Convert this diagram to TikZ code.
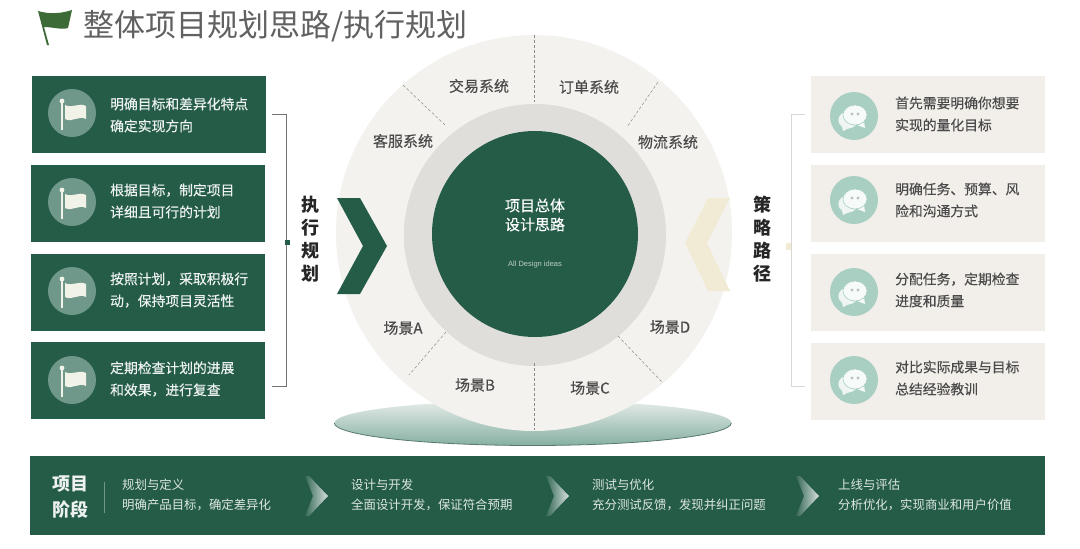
\documentclass[tikz,border=0pt]{standalone}
\usepackage{fontspec}
\setmainfont{Liberation Sans}
\newfontfamily\cjk{Noto Sans CJK SC}
\newfontfamily\cjkmid[FakeBold=0.3]{Noto Sans CJK SC}
\usetikzlibrary{shapes.geometric}
\definecolor{deepgreen}{HTML}{245C48}
\definecolor{iconplan}{HTML}{6F978A}
\definecolor{iconchat}{HTML}{A9CFC3}
\definecolor{paleflag}{HTML}{F1F3E9}
\definecolor{wheelbg}{HTML}{F4F2EE}
\definecolor{sandbox}{HTML}{F2EFEA}
\definecolor{sandarrow}{HTML}{F1EBD6}
\definecolor{inktext}{HTML}{4A4A4A}
\definecolor{baselight}{HTML}{E6EDE9}
\definecolor{basedark}{HTML}{86AFA2}
\definecolor{ringdeep}{HTML}{E0DEDA}
\definecolor{ringmid}{HTML}{E5E3DF}
\definecolor{ringedge}{HTML}{EAE8E4}
\pgfdeclareradialshading{ringfade}{\pgfpoint{0bp}{0bp}}{color(0bp)=(ringdeep); color(28bp)=(ringdeep); color(31bp)=(ringmid); color(35bp)=(ringedge); color(50bp)=(ringedge)}
\tikzset{
  planbox/.style={fill=deepgreen, minimum width=234pt, minimum height=77pt, inner sep=0pt},
  chatbox/.style={fill=sandbox, minimum width=234pt, minimum height=77pt, inner sep=0pt},
  planicon/.style={circle, fill=iconplan, minimum size=48pt, inner sep=0pt},
  chaticon/.style={circle, fill=iconchat, minimum size=48pt, inner sep=0pt},
  plantext/.style={anchor=west, align=left, inner sep=0pt, text=white!92!deepgreen, font=\cjkmid\fontsize{13.8}{22}\selectfont},
  chattext/.style={anchor=west, align=left, inner sep=0pt, text=inktext, font=\cjkmid\fontsize{13.8}{22}\selectfont},
  sidelabel/.style={align=center, inner sep=0pt, text=black!85, font=\cjk\bfseries\fontsize{18}{23}\selectfont},
  wheellabel/.style={inner sep=0pt, text=inktext, font=\cjkmid\fontsize{15}{18}\selectfont},
  stagetext/.style={anchor=west, align=left, inner sep=0pt, text=white!85!deepgreen, font=\cjk\fontsize{12.4}{20}\selectfont},
  spoke/.style={densely dashed, line width=0.5pt, color=black!45},
  flagmark/.pic={
    \fill[paleflag] (-11,-11) rectangle (-9,17);
    \fill[paleflag] (-10,-12) circle (2.4);
    \fill[paleflag] (-7,-8) .. controls (0,-4) and (7,-11) .. (14,-7) -- (14,6) .. controls (7,2) and (0,10) .. (-7,6) -- cycle;
  },
  chatmark/.pic={
    \fill[white!80!iconchat, draw=iconchat, line width=0.6pt] (-6,4) ellipse (10 and 9);
    \fill[white!80!iconchat] (-13,6) -- (-11,15) -- (-3,11) -- cycle;
    \fill[white!90!iconchat] (10,5) -- (11,12) -- (3,9) -- cycle;
    \fill[white!90!iconchat, draw=iconchat, line width=0.6pt] (1,-1) ellipse (12 and 10);
    \fill[black!25] (-2,-2) circle (1.6) (4,-2) circle (1.6);
  },
  stagemark/.pic={
    \shade[left color=deepgreen!92!white, right color=white!82!deepgreen] (-12,-20) -- (-8,-20) -- (11,0) -- (-8,20) -- (-12,20) -- (-4,0) -- cycle;
  }
}
\begin{document}
\begin{tikzpicture}[x=1pt, y=-1pt]
\useasboundingbox (0,0) rectangle (1080,549);
\fill[white!98!wheelbg] (0,0) rectangle (1080,549);

\fill[color={rgb,255:red,61;green,107;blue,56}] (38,11) .. controls (48,14) and (60,14) .. (72,10) -- (68,28) .. controls (62,30) and (52,27) .. (44,27) -- (49,45) -- (47,45) -- cycle;
\node[anchor=west, inner sep=0pt, text=black!62, font=\cjk\fontsize{31}{36}\selectfont] (title) at (83,26) {整体项目规划思路/执行规划};

\node[planbox] (plan1) at (149,114) {};
\node[planbox] (plan2) at (148,203) {};
\node[planbox] (plan3) at (148,292) {};
\node[planbox] (plan4) at (148,380) {};
\node[planicon] (planicon1) at (72,113) {};
\node[planicon] (planicon2) at (72,202) {};
\node[planicon] (planicon3) at (72,291) {};
\node[planicon] (planicon4) at (72,380) {};
\pic at (planicon1) {flagmark};
\pic at (planicon2) {flagmark};
\pic at (planicon3) {flagmark};
\pic at (planicon4) {flagmark};
\node[plantext] (plantext1) at (110,115) {明确目标和差异化特点\\确定实现方向};
\node[plantext] (plantext2) at (110,201) {根据目标，制定项目\\详细且可行的计划};
\node[plantext] (plantext3) at (110,290) {按照计划，采取积极行\\动，保持项目灵活性};
\node[plantext] (plantext4) at (110,379) {定期检查计划的进展\\和效果，进行复查};

\coordinate (planbr1) at (272,114);
\coordinate (planbr2) at (286,114);
\coordinate (planbr3) at (286,386);
\coordinate (planbr4) at (272,386);
\draw[line width=0.7pt, color=black!55] (planbr1) -- (planbr2) -- (planbr3) -- (planbr4);
\fill[deepgreen] (285,240) rectangle (290,245);
\node[sidelabel] (planlabel) at (310,239) {执\\行\\规\\划};

\node[ellipse, top color=baselight, bottom color=basedark, minimum width=397pt, minimum height=45pt, inner sep=0pt] (base) at (533,423) {};
\draw[line width=0.8pt, color=iconplan!80!black] (base.west) arc[start angle=180, end angle=0, x radius=198.5, y radius=22.5];
\node[circle, fill=wheelbg, minimum size=396pt, inner sep=0pt] (wheel) at (534,233) {};
\node[circle, shading=ringfade, minimum size=262pt, inner sep=0pt] (ring) at (535,235) {};
\node[circle, fill=deepgreen, minimum size=206pt, inner sep=0pt] (core) at (535,234) {};

\coordinate (sp1a) at (534,35);
\coordinate (sp1b) at (534,102);
\coordinate (sp2a) at (658,82);
\coordinate (sp2b) at (627,127);
\coordinate (sp3a) at (618,336);
\coordinate (sp3b) at (662,382);
\coordinate (sp4a) at (534,363);
\coordinate (sp4b) at (534,430);
\coordinate (sp5a) at (446,332);
\coordinate (sp5b) at (409,375);
\coordinate (sp6a) at (403,85);
\coordinate (sp6b) at (445,125);
\draw[spoke] (sp1a) -- (sp1b);
\draw[spoke] (sp2a) -- (sp2b);
\draw[spoke] (sp3a) -- (sp3b);
\draw[spoke] (sp4a) -- (sp4b);
\draw[spoke] (sp5a) -- (sp5b);
\draw[spoke] (sp6a) -- (sp6b);

\node[wheellabel] (sys1) at (479,86) {交易系统};
\node[wheellabel] (sys2) at (589,87) {订单系统};
\node[wheellabel] (sys3) at (403,141) {客服系统};
\node[wheellabel] (sys4) at (668,142) {物流系统};
\node[wheellabel] (scene1) at (403,328) {场景A};
\node[wheellabel] (scene2) at (475,385) {场景B};
\node[wheellabel] (scene3) at (590,388) {场景C};
\node[wheellabel] (scene4) at (670,327) {场景D};
\node[align=center, inner sep=0pt, text=white, font=\cjkmid\fontsize{15}{19}\selectfont] (coretext) at (535,215) {项目总体\\设计思路};
\node[inner sep=0pt, text=white!70!deepgreen, font=\fontsize{7.5}{9}\selectfont] (coresub) at (535,265) {All Design ideas};

\fill[deepgreen] (337,198) -- (360,198) -- (387,246) -- (360,294) -- (337,294) -- (363,246) -- cycle;
\fill[sandarrow] (730,198) -- (708,198) -- (685,243) -- (708,291) -- (730,291) -- (707,243) -- cycle;

\node[chatbox] (chat1) at (928,114.5) {};
\node[chatbox] (chat2) at (928,203.5) {};
\node[chatbox] (chat3) at (928,292.5) {};
\node[chatbox] (chat4) at (928,381) {};
\node[chaticon] (chaticon1) at (854,116) {};
\node[chaticon] (chaticon2) at (854,200) {};
\node[chaticon] (chaticon3) at (854,292) {};
\node[chaticon] (chaticon4) at (854,380) {};
\pic at (chaticon1) {chatmark};
\pic at (chaticon2) {chatmark};
\pic at (chaticon3) {chatmark};
\pic at (chaticon4) {chatmark};
\node[chattext] (chattext1) at (895,114) {首先需要明确你想要\\实现的量化目标};
\node[chattext] (chattext2) at (895,200) {明确任务、预算、风\\险和沟通方式};
\node[chattext] (chattext3) at (895,290) {分配任务，定期检查\\进度和质量};
\node[chattext] (chattext4) at (895,378) {对比实际成果与目标\\总结经验教训};

\coordinate (chatbr1) at (805,114);
\coordinate (chatbr2) at (791,114);
\coordinate (chatbr3) at (791,386);
\coordinate (chatbr4) at (805,386);
\draw[line width=0.7pt, color=sandbox!90!black] (chatbr1) -- (chatbr2) -- (chatbr3) -- (chatbr4);
\fill[sandarrow] (786,243) rectangle (791,250);
\node[sidelabel] (chatlabel) at (762,239) {策\\略\\路\\径};

\node[fill=deepgreen, minimum width=1015pt, minimum height=79pt, inner sep=0pt] (stageband) at (537.5,495.5) {};
\node[align=center, inner sep=0pt, text=white!92!deepgreen, font=\cjk\bfseries\fontsize{18}{26}\selectfont] (stagehead) at (70,497) {项目\\阶段};
\coordinate (stagediv1) at (104,482);
\coordinate (stagediv2) at (104,513);
\draw[line width=0.7pt, color=iconplan] (stagediv1) -- (stagediv2);
\node[stagetext] (stage1) at (122,495) {规划与定义\\明确产品目标，确定差异化};
\node[stagetext] (stage2) at (351,495) {设计与开发\\全面设计开发，保证符合预期};
\node[stagetext] (stage3) at (592,495) {测试与优化\\充分测试反馈，发现并纠正问题};
\node[stagetext] (stage4) at (838,495) {上线与评估\\分析优化，实现商业和用户价值};
\pic at (317,496) {stagemark};
\pic at (558,496) {stagemark};
\pic at (808,496) {stagemark};
\end{tikzpicture}
\end{document}
